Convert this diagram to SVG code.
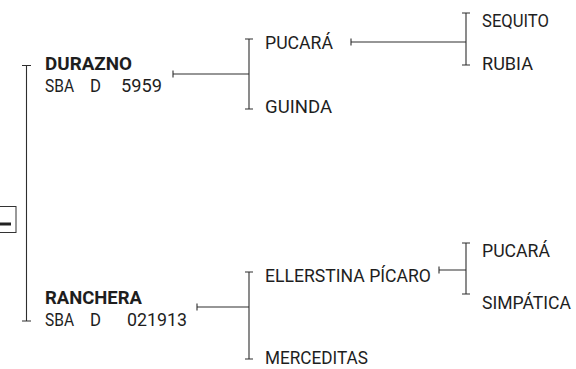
<svg xmlns="http://www.w3.org/2000/svg" width="576" height="369" viewBox="0 0 576 369">
<style>
  text { font-family: Roboto, "Liberation Sans", sans-serif; font-size: 19px; fill: #1e1e1e; }
  .b { font-weight: bold; }
  .ln { stroke: #2e2e2e; stroke-width: 1.1; fill: none; }
</style>
<rect width="576" height="369" fill="#fff"/>
<g id="connectors">
  <path class="ln" d="M26.5 65.5V321M22 65.5H31M22 321H31"/>
  <path class="ln" d="M173 74H249M173 70.5V77.5"/>
  <path class="ln" d="M249 39V109M245 39H253M245 109H253"/>
  <path class="ln" d="M351 42H466M351 38.5V45.5"/>
  <path class="ln" d="M466 13V65M462 13H470M462 65H470"/>
  <path class="ln" d="M197 307H249M197 303.5V310.5"/>
  <path class="ln" d="M249 272V359M245 272H253M245 359H253"/>
  <path class="ln" d="M439 270H466M439 266.5V273.5"/>
  <path class="ln" d="M466 243V294M462 243H470M462 294H470"/>
</g>
<g id="toggle">
  <rect x="-1" y="206.5" width="17" height="26" fill="#fff" stroke="#333" stroke-width="1"/>
  <rect x="0" y="222.5" width="11" height="3" fill="#222"/>
</g>
<g id="durazno">
  <text class="b" x="45" y="70" textLength="87" lengthAdjust="spacingAndGlyphs">DURAZNO</text>
  <text x="45" y="92" textLength="29" lengthAdjust="spacingAndGlyphs">SBA</text>
  <text x="90" y="92" textLength="11" lengthAdjust="spacingAndGlyphs">D</text>
  <text x="121" y="92" textLength="41" lengthAdjust="spacingAndGlyphs">5959</text>
</g>
<g id="pucara1"><text x="265" y="48.5" textLength="68" lengthAdjust="spacingAndGlyphs">PUCARÁ</text></g>
<g id="guinda"><text x="265" y="113" textLength="67" lengthAdjust="spacingAndGlyphs">GUINDA</text></g>
<g id="sequito"><text x="482" y="26.5" textLength="67" lengthAdjust="spacingAndGlyphs">SEQUITO</text></g>
<g id="rubia"><text x="482" y="70" textLength="51" lengthAdjust="spacingAndGlyphs">RUBIA</text></g>
<g id="ranchera">
  <text class="b" x="45" y="304" textLength="97" lengthAdjust="spacingAndGlyphs">RANCHERA</text>
  <text x="45" y="325.5" textLength="29" lengthAdjust="spacingAndGlyphs">SBA</text>
  <text x="90" y="325.5" textLength="11" lengthAdjust="spacingAndGlyphs">D</text>
  <text x="127" y="325.5" textLength="60" lengthAdjust="spacingAndGlyphs">021913</text>
</g>
<g id="ellerstina"><text x="265" y="282" textLength="166" lengthAdjust="spacingAndGlyphs">ELLERSTINA PÍCARO</text></g>
<g id="merceditas"><text x="265" y="364" textLength="103" lengthAdjust="spacingAndGlyphs">MERCEDITAS</text></g>
<g id="pucara2"><text x="482" y="257" textLength="68" lengthAdjust="spacingAndGlyphs">PUCARÁ</text></g>
<g id="simpatica"><text x="482" y="309" style="font-size:17.5px" textLength="89" lengthAdjust="spacingAndGlyphs">SIMPÁTICA</text></g>
</svg>
